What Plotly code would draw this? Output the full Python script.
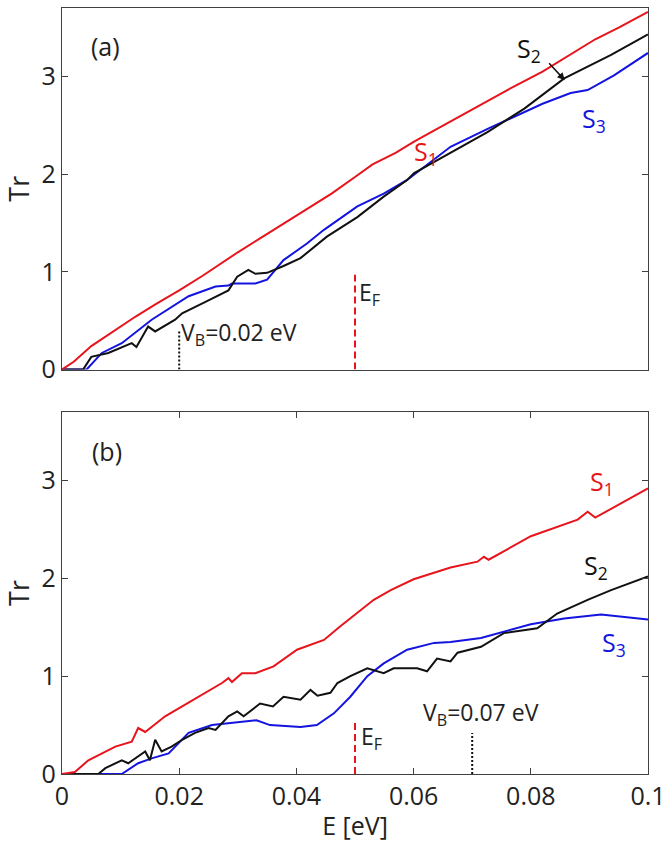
import plotly.graph_objects as go

# ---------------- data: panel (a) ----------------
a_s1_x = [0, 0.002, 0.005, 0.008, 0.0125, 0.016, 0.02, 0.024, 0.0275, 0.03, 0.034, 0.038, 0.042, 0.046,
          0.05, 0.053, 0.057, 0.06, 0.063, 0.066, 0.0715, 0.076, 0.082, 0.086, 0.091, 0.095, 0.1]
a_s1_y = [0, 0.08, 0.24, 0.36, 0.54, 0.67, 0.81, 0.96, 1.10, 1.20, 1.35, 1.50, 1.65, 1.80,
          1.97, 2.10, 2.22, 2.33, 2.43, 2.53, 2.71, 2.86, 3.05, 3.20, 3.38, 3.50, 3.66]

a_s2_x = [0, 0.0036, 0.005, 0.0079, 0.0119, 0.0127, 0.0147, 0.0159, 0.0193, 0.0205, 0.0244, 0.0284,
          0.0299, 0.0318, 0.033, 0.035, 0.0378, 0.0407, 0.0452, 0.0504, 0.0549, 0.0589, 0.0601,
          0.0663, 0.0726, 0.0789, 0.0857, 0.0937, 0.1]
a_s2_y = [0, 0, 0.13, 0.17, 0.27, 0.23, 0.44, 0.39, 0.51, 0.575, 0.69, 0.81,
          0.95, 1.02, 0.98, 0.99, 1.06, 1.14, 1.36, 1.56, 1.77, 1.94, 2.01,
          2.22, 2.43, 2.67, 2.98, 3.22, 3.43]

a_s3_x = [0, 0.0042, 0.0068, 0.0102, 0.0153, 0.0216, 0.0262, 0.0284, 0.029, 0.033, 0.035, 0.0378,
          0.0418, 0.0447, 0.0504, 0.0549, 0.0589, 0.0663, 0.0729, 0.0777, 0.082, 0.0868, 0.0897,
          0.0942, 0.1]
a_s3_y = [0, 0, 0.17, 0.27, 0.51, 0.75, 0.85, 0.86, 0.88, 0.88, 0.92, 1.12,
          1.29, 1.43, 1.67, 1.80, 1.94, 2.28, 2.47, 2.60, 2.72, 2.83, 2.86,
          3.01, 3.24]

# ---------------- data: panel (b) ----------------
b_s1_x = [0, 0.0022, 0.0045, 0.0091, 0.0119, 0.013, 0.0142, 0.0176, 0.0205, 0.0233, 0.0273, 0.0284,
          0.029, 0.0307, 0.033, 0.0361, 0.0401, 0.0447, 0.0475, 0.0532, 0.0561, 0.06, 0.0663,
          0.0709, 0.072, 0.0728, 0.08, 0.088, 0.0897, 0.091, 0.1]
b_s1_y = [0, 0.02, 0.14, 0.28, 0.33, 0.47, 0.43, 0.59, 0.69, 0.79, 0.93, 0.98,
          0.94, 1.03, 1.03, 1.10, 1.27, 1.37, 1.51, 1.78, 1.88, 1.99, 2.11,
          2.17, 2.22, 2.19, 2.43, 2.60, 2.68, 2.62, 2.92]

b_s2_x = [0, 0.0062, 0.0074, 0.0102, 0.0113, 0.0125, 0.0142, 0.015, 0.0159, 0.017, 0.0187, 0.0205,
          0.0227, 0.025, 0.0262, 0.0284, 0.0299, 0.031, 0.0338, 0.036, 0.0378, 0.0407, 0.0424,
          0.0436, 0.0458, 0.047, 0.0492, 0.0521, 0.0549, 0.0566, 0.0606, 0.0623, 0.064, 0.0663,
          0.0675, 0.0715, 0.0754, 0.0811, 0.0845, 0.0897, 0.0937, 0.1]
b_s2_y = [0, 0, 0.06, 0.14, 0.11, 0.16, 0.23, 0.14, 0.35, 0.23, 0.28, 0.35,
          0.42, 0.47, 0.45, 0.59, 0.64, 0.59, 0.72, 0.69, 0.79, 0.76, 0.86,
          0.80, 0.83, 0.93, 1.00, 1.08, 1.03, 1.08, 1.08, 1.05, 1.18, 1.15,
          1.24, 1.30, 1.44, 1.49, 1.64, 1.78, 1.88, 2.02]

b_s3_x = [0, 0.0102, 0.013, 0.0153, 0.0182, 0.0216, 0.0256, 0.0284, 0.0304, 0.0332, 0.0355, 0.0407,
          0.0435, 0.0464, 0.0492, 0.0521, 0.0549, 0.0589, 0.0635, 0.0663, 0.0715, 0.08, 0.0857,
          0.092, 0.1]
b_s3_y = [0, 0, 0.11, 0.16, 0.21, 0.42, 0.50, 0.52, 0.53, 0.55, 0.50, 0.48,
          0.50, 0.62, 0.79, 1.00, 1.13, 1.27, 1.34, 1.35, 1.39, 1.53, 1.59,
          1.63, 1.58]

# reference energies and marker heights
E_F = 0.05
VB_a = 0.02
VB_b = 0.07
EF_height = [0.97, 0.52]   # panel a, panel b
VB_height = [0.40, 0.42]

x_ticks = [0, 0.02, 0.04, 0.06, 0.08, 0.1]
x_ticklabels = ["0", "0.02", "0.04", "0.06", "0.08", "0.1"]
y_ticks = [0, 1, 2, 3]

RED = "#e8141c"
BLUE = "#1414e0"
BLACK = "#111111"
FONT = "Open Sans"

fig = go.Figure()

def add_curves(axes_x, axes_y, series):
    for x, y, c in series:
        fig.add_trace(go.Scatter(x=x, y=y, mode="lines", line=dict(color=c, width=2),
                                 xaxis=axes_x, yaxis=axes_y, showlegend=False, hoverinfo="skip"))

add_curves("x2", "y2", [(a_s3_x, a_s3_y, BLUE), (a_s2_x, a_s2_y, BLACK), (a_s1_x, a_s1_y, RED)])
add_curves("x", "y", [(b_s3_x, b_s3_y, BLUE), (b_s2_x, b_s2_y, BLACK), (b_s1_x, b_s1_y, RED)])

# reference lines
for xv, h, xa, ya, c, d in [(E_F, EF_height[0], "x2", "y2", RED, "7px,4px"),
                            (VB_a, VB_height[0], "x2", "y2", BLACK, "2px,2px"),
                            (E_F, EF_height[1], "x", "y", RED, "7px,4px"),
                            (VB_b, VB_height[1], "x", "y", BLACK, "2px,2px")]:
    fig.add_trace(go.Scatter(x=[xv, xv], y=[0, h], mode="lines",
                             line=dict(color=c, width=2, dash=d), xaxis=xa, yaxis=ya,
                             showlegend=False, hoverinfo="skip"))

axis_common = dict(showgrid=False, zeroline=False, showline=True, linecolor="#404040", linewidth=1.3,
                   mirror="ticks", ticks="inside", ticklen=6, tickcolor="#404040",
                   tickfont=dict(family=FONT, size=25, color="#222"), automargin=False)

fig.update_layout(
    width=664, height=851,
    margin=dict(l=62, r=16, t=8, b=77),
    plot_bgcolor="white", paper_bgcolor="white",
    font=dict(family=FONT, color="#222"),
    xaxis=dict(axis_common, domain=[0, 1], anchor="y", range=[0, 0.1],
               tickvals=x_ticks, ticktext=x_ticklabels, ticklabeloverflow="allow",
               title=dict(text="E [eV]", font=dict(family=FONT, size=25), standoff=6)),
    yaxis=dict(axis_common, domain=[0, 0.4726], anchor="x", range=[0, 3.7], tickvals=y_ticks,
               title=dict(text="Tr", font=dict(family=FONT, size=27), standoff=4)),
    xaxis2=dict(axis_common, domain=[0, 1], anchor="y2", range=[0, 0.1], tickvals=x_ticks,
                showticklabels=False, ticks=""),
    yaxis2=dict(axis_common, domain=[0.528, 1], anchor="x2", range=[0, 3.7], tickvals=y_ticks,
                title=dict(text="Tr", font=dict(family=FONT, size=27), standoff=4)),
)

def ann(text, x, y, xr, yr, color, size=24, xanchor="center", yanchor="middle"):
    fig.add_annotation(text=text, x=x, y=y, xref=xr, yref=yr, showarrow=False,
                       font=dict(family=FONT, size=size, color=color),
                       xanchor=xanchor, yanchor=yanchor)

# panel (a)
ann("(a)", 0.0074, 3.31, "x2", "y2", "#222", size=25)
ann("S<sub>1</sub>", 0.0622, 2.22, "x2", "y2", RED, size=25)
ann("S<sub>2</sub>", 0.0797, 3.28, "x2", "y2", BLACK, size=25)
ann("S<sub>3</sub>", 0.0908, 2.56, "x2", "y2", BLUE, size=25)
ann("E<sub>F</sub>", 0.0503, 0.78, "x2", "y2", "#222", size=23, xanchor="left")
ann("V<sub>B</sub>=0.02 eV", 0.0199, 0.37, "x2", "y2", "#222", size=23, xanchor="left")
fig.add_annotation(x=0.0858, y=2.96, ax=0.0829, ay=3.15, xref="x2", yref="y2", axref="x2", ayref="y2",
                   text="", showarrow=True, arrowhead=2, arrowsize=1, arrowwidth=1.5, arrowcolor=BLACK)

# panel (b)
ann("(b)", 0.0077, 3.30, "x", "y", "#222", size=25)
ann("S<sub>1</sub>", 0.0922, 2.98, "x", "y", RED, size=25)
ann("S<sub>2</sub>", 0.0911, 2.12, "x", "y", BLACK, size=25)
ann("S<sub>3</sub>", 0.0942, 1.33, "x", "y", BLUE, size=25)
ann("E<sub>F</sub>", 0.0506, 0.37, "x", "y", "#222", size=23, xanchor="left")
ann("V<sub>B</sub>=0.07 eV", 0.0612, 0.62, "x", "y", "#222", size=23, xanchor="left")

fig.write_html("out.html")
